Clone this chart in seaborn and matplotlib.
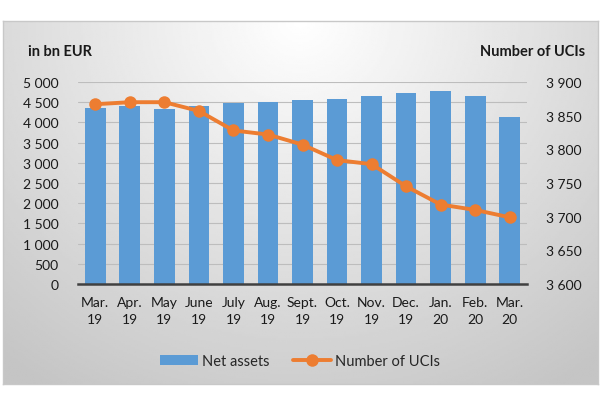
import numpy as np
import pandas as pd
import matplotlib
matplotlib.use("Agg")
import matplotlib.pyplot as plt
import seaborn as sns

# Données
months = ["Mar.\n19", "Apr.\n19", "May\n19", "June\n19", "July\n19", "Aug.\n19",
          "Sept.\n19", "Oct.\n19", "Nov.\n19", "Dec.\n19", "Jan.\n20", "Feb.\n20",
          "Mar.\n20"]
net_assets = [4349, 4399, 4332, 4406, 4480, 4505, 4562, 4579, 4661, 4720, 4777, 4661, 4141]
n_ucis = [3867, 3870, 3870, 3857, 3828, 3822, 3807, 3784, 3778, 3745, 3718, 3710, 3699]
left_ticks = list(range(0, 5001, 500))
right_ticks = list(range(3600, 3901, 50))

BAR = "#5B9BD5"
LINE = "#ED7D31"

sns.set_theme(style="white")
plt.rcParams['font.family'] = ['Lato', 'DejaVu Sans']


def fmt(v):
    return f"{v:,}".replace(",", " ")


df = pd.DataFrame({"month": months, "net_assets": net_assets, "n_ucis": n_ucis})
df["pos"] = np.arange(len(df))

fig = plt.figure(figsize=(6.0, 4.14), dpi=100)

# fond dégradé du cadre
bg = fig.add_axes([3 / 600, 1 - 385 / 414, 595 / 600, 363 / 414], zorder=-10)
yy, xx = np.mgrid[0:1:200j, -1:1:300j]
r = np.sqrt((xx * 0.75) ** 2 + (yy * 1.0) ** 2)
shade = 1.0 - 0.23 * np.clip(r / 1.2, 0, 1)
bg.imshow(shade, cmap="gray", vmin=0, vmax=1, aspect="auto", extent=[0, 1, 1, 0])
bg.set_xticks([])
bg.set_yticks([])
for s in bg.spines.values():
    s.set_color("#c8c8c8")
    s.set_linewidth(1)

ax = fig.add_axes([78 / 600, 1 - 285 / 414, 449 / 600, 202 / 414])
ax.patch.set_alpha(0)
sns.barplot(data=df, x="month", y="net_assets", color=BAR, width=0.6,
            saturation=1, linewidth=0, edgecolor="none", ax=ax,
            label="Net assets", zorder=3)
ax.set_ylim(0, 5000)
ax.set_xlim(-0.5, len(df) - 0.5)
ax.set_yticks(left_ticks)
ax.set_yticklabels([fmt(v) for v in left_ticks])
ax.yaxis.grid(True, color="#bdbdbd", linewidth=0.8, zorder=0)
ax.set_axisbelow(True)
ax.set_xlabel("")
ax.set_ylabel("")
for s in ["top", "right", "left"]:
    ax.spines[s].set_visible(False)
ax.spines["bottom"].set_color("#404040")
ax.spines["bottom"].set_linewidth(1.8)
ax.spines["bottom"].set_zorder(6)
ax.tick_params(axis="both", length=0, labelsize=10, colors="#1a1a1a")
ax.tick_params(axis="y", pad=14)
ax.tick_params(axis="x", pad=9)
for t in ax.get_xticklabels():
    t.set_linespacing(1.45)

ax2 = ax.twinx()
sns.lineplot(data=df, x="pos", y="n_ucis", color=LINE, linewidth=2.8,
             marker="o", markersize=9, markeredgewidth=0, ax=ax2,
             label="Number of UCIs", zorder=5)
ax2.set_ylim(3600, 3900)
ax2.set_yticks(right_ticks)
ax2.set_yticklabels([fmt(v) for v in right_ticks])
ax2.set_ylabel("")
ax2.set_xlabel("")
for s in ax2.spines.values():
    s.set_visible(False)
ax2.tick_params(axis="y", length=0, labelsize=10, colors="#1a1a1a", pad=14)
ax2.set_xlim(-0.5, len(df) - 0.5)

if ax.get_legend():
    ax.get_legend().remove()
ax2.get_legend().remove()

h1, l1 = ax.get_legend_handles_labels()
h2, l2 = ax2.get_legend_handles_labels()
fig.legend(h1 + h2, l1 + l2, loc="center", bbox_to_anchor=(0.5, 1 - 362 / 414),
           ncol=2, frameon=False, fontsize=10.5, handlelength=2.6,
           columnspacing=1.6, handletextpad=0.3)

fig.text(28 / 600, 1 - 52 / 414, "in bn EUR", fontsize=10.5, fontweight="bold",
         ha="left", va="center", color="#1a1a1a")
fig.text(585 / 600, 1 - 52 / 414, "Number of UCIs", fontsize=10.5,
         fontweight="bold", ha="right", va="center", color="#1a1a1a")

fig.savefig("out.png", dpi=100)
